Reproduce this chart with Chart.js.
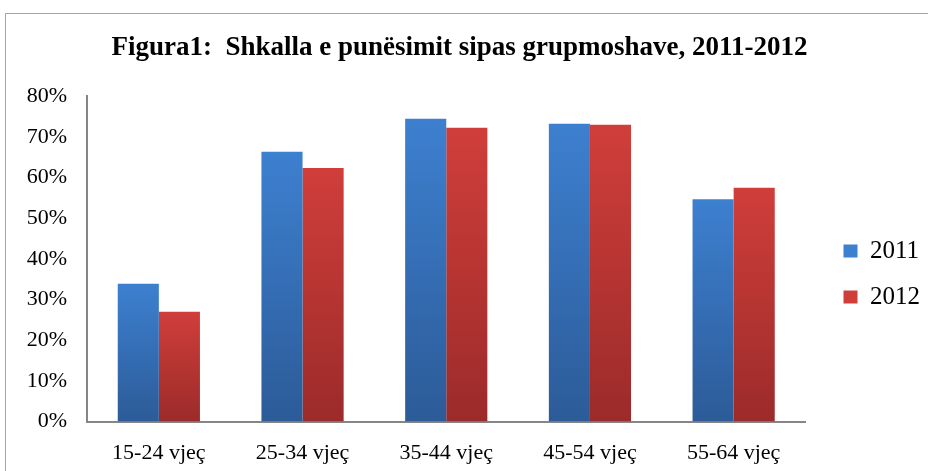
<!DOCTYPE html>
<html lang="sq">
<head>
  <meta charset="UTF-8">
  <title>Shkalla e punësimit sipas grupmoshave</title>
  <script src="https://cdn.jsdelivr.net/npm/chart.js"></script>
  <style>
    body {
      margin: 0;
      background: white;
      overflow: hidden;
    }
    .frame {
      position: absolute;
      left: 5px;
      top: 13px;
      width: 960px;
      height: 500px;
      border-left: 1px solid #a6a6a6;
      border-top: 1px solid #a6a6a6;
    }
    .wrap {
      position: absolute;
      left: 6px;
      top: 14px;
      width: 922px;
      height: 476px;
    }
  </style>
</head>
<body>
  <div class="frame"></div>
  <div class="wrap"><canvas id="chartPunesimi"></canvas></div>
  <script>
    const grupmoshat = ['15-24 vjeç', '25-34 vjeç', '35-44 vjeç', '45-54 vjeç', '55-64 vjeç'];
    const vlerat2011 = [33.9, 66.4, 74.5, 73.3, 54.7];
    const vlerat2012 = [27.0, 62.4, 72.3, 73.0, 57.5];
    const yTicks = [0, 10, 20, 30, 40, 50, 60, 70, 80];

    const serif = "'Liberation Serif', 'Times New Roman', serif";

    // gradient per bar: lighter at the top, darker at the base
    function barGradient(top, bottom, solid) {
      return function (context) {
        const chart = context.chart;
        if (context.type !== 'data' || !chart.chartArea) return solid;
        const y = chart.scales.y;
        const v = context.raw;
        const g = chart.ctx.createLinearGradient(0, y.getPixelForValue(v), 0, y.getPixelForValue(0));
        g.addColorStop(0, top);
        g.addColorStop(1, bottom);
        return g;
      };
    }

    // move the legend a bit right and down, like in the original
    const legendShift = {
      id: 'legendShift',
      afterLayout(chart) {
        const lg = chart.legend;
        const w = lg.right - lg.left;
        lg.left = chart.chartArea.right + 17;
        lg.right = lg.left + w;
        lg.top += 25;
        lg.bottom += 25;
      }
    };

    const ctx = document.getElementById('chartPunesimi').getContext('2d');
    new Chart(ctx, {
      type: 'bar',
      data: {
        labels: grupmoshat,
        datasets: [{
          label: '2011',
          data: vlerat2011,
          backgroundColor: barGradient('#3d80d0', '#2c5b98', '#3570bb')
        }, {
          label: '2012',
          data: vlerat2012,
          backgroundColor: barGradient('#d03e3a', '#9b2b2a', '#c03936')
        }]
      },
      plugins: [legendShift],
      options: {
        responsive: true,
        maintainAspectRatio: false,
        animation: false,
        categoryPercentage: 0.572,
        barPercentage: 1,
        layout: {
          padding: { left: 0, right: 15, bottom: 6 }
        },
        plugins: {
          title: {
            display: true,
            text: 'Figura1:  Shkalla e punësimit sipas grupmoshave, 2011-2012',
            color: '#000',
            font: { family: serif, size: 27, weight: 'bold' },
            padding: { top: 18, bottom: 32 }
          },
          legend: {
            position: 'right',
            labels: {
              color: '#000',
              font: { family: serif, size: 25 },
              boxWidth: 14,
              boxHeight: 13,
              padding: 21
            }
          },
          tooltip: { enabled: false }
        },
        scales: {
          x: {
            grid: { display: false, drawTicks: false },
            border: { display: true, color: '#868686', width: 2 },
            ticks: { color: '#000', font: { family: serif, size: 22 }, padding: 18 }
          },
          y: {
            min: 0,
            max: 80,
            afterBuildTicks: function (scale) {
              scale.ticks = yTicks.map(v => ({ value: v }));
            },
            afterFit: function (scale) {
              scale.width = 81;
            },
            grid: { display: false, drawTicks: false },
            border: { display: true, color: '#868686', width: 2 },
            ticks: {
              color: '#000',
              font: { family: serif, size: 22 },
              padding: 20,
              callback: v => v + '%'
            }
          }
        }
      }
    });
  </script>
</body>
</html>
